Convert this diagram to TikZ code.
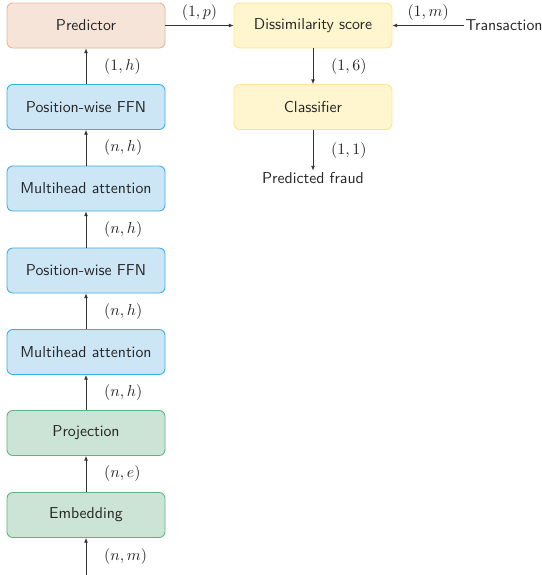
\documentclass[tikz,border=0pt]{standalone}
\usetikzlibrary{arrows.meta}
\definecolor{predfill}{HTML}{F6E4D8}
\definecolor{preddraw}{HTML}{E6B595}
\definecolor{bluefill}{HTML}{CCE6F6}
\definecolor{bluedraw}{HTML}{3AAEE0}
\definecolor{greenfill}{HTML}{CCE4D5}
\definecolor{greendraw}{HTML}{5BB57C}
\definecolor{yelfill}{HTML}{FFF5CF}
\definecolor{yeldraw}{HTML}{FCE58E}
\definecolor{linecol}{HTML}{333333}
\tikzset{
  block/.style={rounded corners=4pt, minimum width=158*0.69pt, minimum height=45*0.69pt,
    font=\sffamily\fontsize{10.9}{13}\selectfont, text=black!85, line width=0.6pt, inner sep=0pt},
  predbox/.style={block, fill=predfill, draw=preddraw},
  bluebox/.style={block, fill=bluefill, draw=bluedraw},
  greenbox/.style={block, fill=greenfill, draw=greendraw},
  yelbox/.style={block, fill=yelfill, draw=yeldraw},
  conn/.style={draw=linecol, line width=0.5pt, -{Latex[length=3.2pt,width=2.6pt]}},
  dim/.style={font=\fontsize{11.4}{13}\selectfont, text=black!85},
  plain/.style={font=\sffamily\fontsize{10.9}{13}\selectfont, text=black!85, inner sep=1pt}
}
\begin{document}
\begin{tikzpicture}[x=0.69pt, y=-0.69pt]
  \useasboundingbox (0,0) rectangle (542,575);
  % left column: encoder stack
  \node[predbox]  (pred) at (86,25.5)  {Predictor};
  \node[bluebox]  (ffn2) at (86,107)   {Position-wise FFN};
  \node[bluebox]  (att2) at (86,188.5) {Multihead attention};
  \node[bluebox]  (ffn1) at (86,270.5) {Position-wise FFN};
  \node[bluebox]  (att1) at (86,352)   {Multihead attention};
  \node[greenbox] (proj) at (86,433)   {Projection};
  \node[greenbox] (emb)  at (86,515)   {Embedding};
  \coordinate (in) at (86,575);
  % right column: scoring
  \node[yelbox] (diss) at (313,25.5) {Dissimilarity score};
  \node[yelbox] (cls)  at (313,107)  {Classifier};
  \node[plain, anchor=west] (tx) at (464,25.5) {Transaction};
  \node[plain] (fraud) at (313,178) {Predicted fraud};

  \draw[conn] (in) -- node[dim, right=9pt, pos=0.5] {$(n,m)$} (emb);
  \draw[conn] (emb) -- node[dim, right=9pt] {$(n,e)$} (proj);
  \draw[conn] (proj) -- node[dim, right=9pt] {$(n,h)$} (att1);
  \draw[conn] (att1) -- node[dim, right=9pt] {$(n,h)$} (ffn1);
  \draw[conn] (ffn1) -- node[dim, right=9pt] {$(n,h)$} (att2);
  \draw[conn] (att2) -- node[dim, right=9pt] {$(n,h)$} (ffn2);
  \draw[conn] (ffn2) -- node[dim, right=9pt] {$(1,h)$} (pred);
  \draw[conn] (pred) -- node[dim, above=0pt] {$(1,p)$} (diss);
  \draw[conn] (tx) -- node[dim, above=0pt] {$(1,m)$} (diss);
  \draw[conn] (diss) -- node[dim, right=9pt] {$(1,6)$} (cls);
  \draw[conn] (cls) -- node[dim, right=9pt] {$(1,1)$} (fraud);
\end{tikzpicture}
\end{document}
